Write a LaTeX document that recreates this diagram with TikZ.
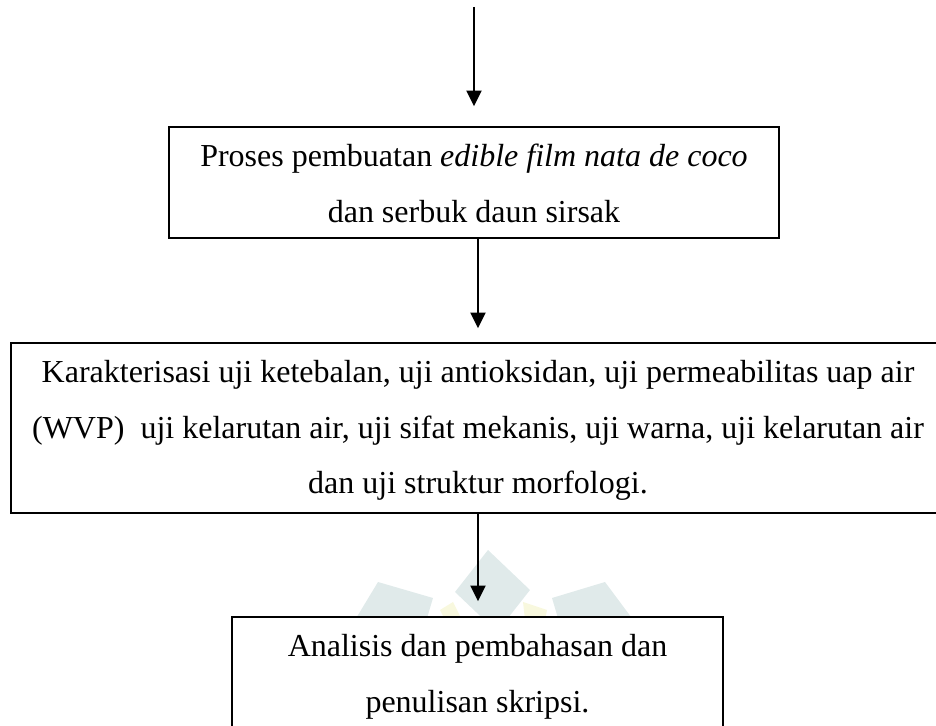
\documentclass[tikz,border=0pt]{standalone}
\usepackage{fontspec}
\setmainfont{Liberation Serif}
\usetikzlibrary{positioning,arrows.meta}
\definecolor{wmteal}{RGB}{224,234,234}
\definecolor{wmyellow}{RGB}{248,248,222}
\newcommand{\atas}{\rule{0pt}{16pt}}
\newcommand{\bawah}[1]{\rule[-#1]{0pt}{#1}}
\tikzset{
  kotak/.style={draw,line width=0.7pt,fill=white,align=center,inner sep=0pt,
    font=\fontsize{12.8}{22.2}\selectfont},
  panah/.style={line width=0.8pt,-{Triangle[length=6.2pt,width=6pt]}}
}

\begin{document}
\begin{tikzpicture}[x=0.4pt,y=-0.4pt]
\clip (0,0) rectangle (936,726);
% watermark
\fill[wmteal] (488,550)--(530,590)--(497,632)--(455,592)--cycle;
\fill[wmteal] (378,582)--(433,598)--(425,625)--(352,625)--cycle;
\fill[wmteal] (552,598)--(605,582)--(637,625)--(560,625)--cycle;
\fill[wmyellow] (440,610)--(453,602)--(462,620)--(445,620)--cycle;
\fill[wmyellow] (523,602)--(547,610)--(545,620)--(525,620)--cycle;
% boxes
\coordinate (awal) at (474,7);
\node[kotak,minimum width=244pt,minimum height=44.4pt] (proses) at (474,182.5)
  {\atas Proses pembuatan \textit{edible film nata de coco}\\dan serbuk daun sirsak\bawah{6.2pt}};
\node[kotak,minimum width=373.6pt,minimum height=68pt] (uji) at (478,428)
  {\atas Karakterisasi uji ketebalan, uji antioksidan, uji permeabilitas uap air\\
   (WVP)~ uji kelarutan air, uji sifat mekanis, uji warna, uji kelarutan air\\
   dan uji struktur morfologi.\bawah{7.6pt}};
\node[kotak,minimum width=196.4pt,minimum height=44.2pt] (analisis) at (477.5,672.25)
  {\atas Analisis dan pembahasan dan\\penulisan skripsi.\bawah{6pt}};
% arrows
\draw[panah,shorten >=8pt] (awal) -- (proses.north);
\draw[panah,shorten >=5.6pt] (proses.south -| uji.north) -- (uji.north);
\draw[panah,shorten >=6pt] (uji.south) -- (uji.south |- analisis.north);
\end{tikzpicture}
\end{document}
